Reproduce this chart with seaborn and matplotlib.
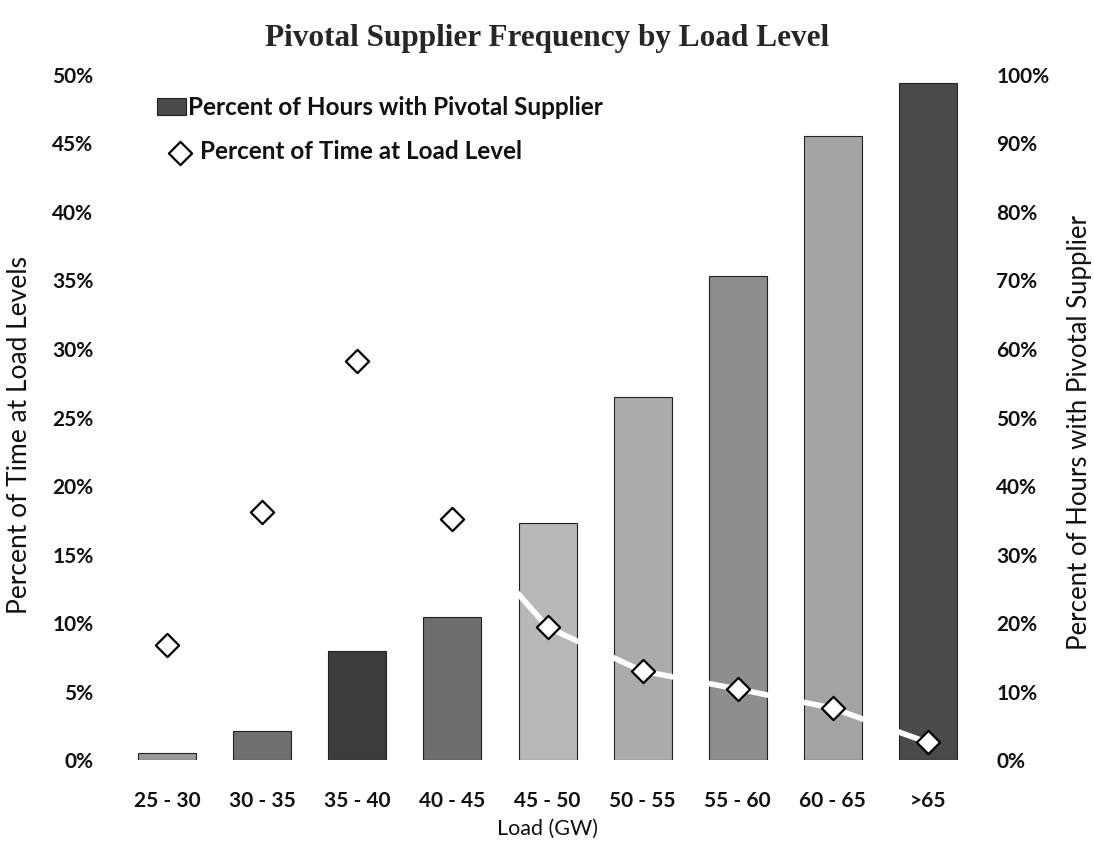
import matplotlib
matplotlib.use("Agg")
import matplotlib.pyplot as plt
import seaborn as sns
import pandas as pd
from matplotlib.ticker import FuncFormatter, MultipleLocator

# ---- data ----
load_levels = ["25 - 30", "30 - 35", "35 - 40", "40 - 45", "45 - 50",
               "50 - 55", "55 - 60", "60 - 65", ">65"]
pct_hours_pivotal = [1.0, 4.2, 15.9, 20.9, 34.6, 53.0, 70.6, 91.1, 98.8]
pct_time_at_load = [8.4, 18.1, 29.1, 17.6, 9.7, 6.5, 5.2, 3.8, 1.3]

bar_greys = ["#9a9a9a", "#707070", "#3c3c3c", "#6e6e6e", "#b8b8b8",
             "#ababab", "#8e8e8e", "#a4a4a4", "#4a4a4a"]

series_bar = "Percent of Hours with Pivotal Supplier"
series_pt = "Percent of Time at Load Level"

df = pd.DataFrame({"load": load_levels,
                   "pivotal": pct_hours_pivotal,
                   "time": pct_time_at_load})

sns.set_theme(style="white")
plt.rcParams["font.family"] = ["Lato", "DejaVu Sans"]

fig = plt.figure(figsize=(10.94, 8.41), dpi=100)
ax = fig.add_axes([0.1095, 0.096, 0.782, 0.815])
ax2 = ax.twinx()

# bars on right axis
sns.barplot(data=df, x="load", y="pivotal", hue="load", palette=bar_greys,
            legend=False, width=0.61, ax=ax2, saturation=1,
            edgecolor="#222222", linewidth=0.8)

# diamonds on left axis with a white connecting line
sns.lineplot(data=df, x="load", y="time", color="white", linewidth=4,
             sort=False, ax=ax, zorder=3, legend=False)
sns.scatterplot(data=df, x="load", y="time", marker="D", s=140,
                color="white", edgecolor="black", linewidth=1.6,
                ax=ax, zorder=4, label=series_pt)

ax.set_zorder(ax2.get_zorder() + 1)
ax.patch.set_visible(False)

ax.set_ylim(0, 50)
ax2.set_ylim(0, 100)
ax.set_xlim(-0.5, len(load_levels) - 0.5)
ax.yaxis.set_major_locator(MultipleLocator(5))
ax2.yaxis.set_major_locator(MultipleLocator(10))
pct = FuncFormatter(lambda v, p: f"{v:.0f}%")
ax.yaxis.set_major_formatter(pct)
ax2.yaxis.set_major_formatter(pct)

for a in (ax, ax2):
    for s in a.spines.values():
        s.set_visible(False)
    a.grid(False)

ax.tick_params(axis="y", length=0, pad=19, labelsize=15)
ax2.tick_params(axis="y", length=0, pad=15, labelsize=15)
ax.tick_params(axis="x", length=0, pad=22, labelsize=15)
for lab in ax.get_yticklabels() + ax2.get_yticklabels() + ax.get_xticklabels():
    lab.set_fontweight("bold")
    lab.set_color("#111111")

ax.set_xlabel("Load (GW)", fontsize=15.5, labelpad=6, color="#111111")
ax.set_ylabel("Percent of Time at Load Levels", fontsize=19, color="#111111")
ax2.set_ylabel("Percent of Hours with Pivotal Supplier", fontsize=18.5,
               color="#111111")
ax.yaxis.set_label_coords(-0.103, 0.474)
ax2.yaxis.set_label_coords(1.107, 0.478)

fig.suptitle("Pivotal Supplier Frequency by Load Level",
             fontfamily="Liberation Serif", fontweight="bold", fontsize=22.5,
             y=0.972)

# legends (two entries placed separately, as in the original)
bar_handle = ax2.patches[-1]
h, l = ax.get_legend_handles_labels()
leg1 = ax.legend([bar_handle], [series_bar],
                 loc="upper left", bbox_to_anchor=(0.0432, 0.969),
                 frameon=False, fontsize=17.5, handlelength=1.2,
                 handletextpad=0.08, borderpad=0, borderaxespad=0)
ax.add_artist(leg1)
leg2 = ax.legend(h, l,
                 loc="upper left", bbox_to_anchor=(0.053, 0.905),
                 frameon=False, fontsize=17.5, handlelength=1.2,
                 handletextpad=0.23, borderpad=0, borderaxespad=0)
for lg in (leg1, leg2):
    for t in lg.get_texts():
        t.set_fontweight("bold")
        t.set_color("#111111")

fig.savefig("out.png", dpi=100)
